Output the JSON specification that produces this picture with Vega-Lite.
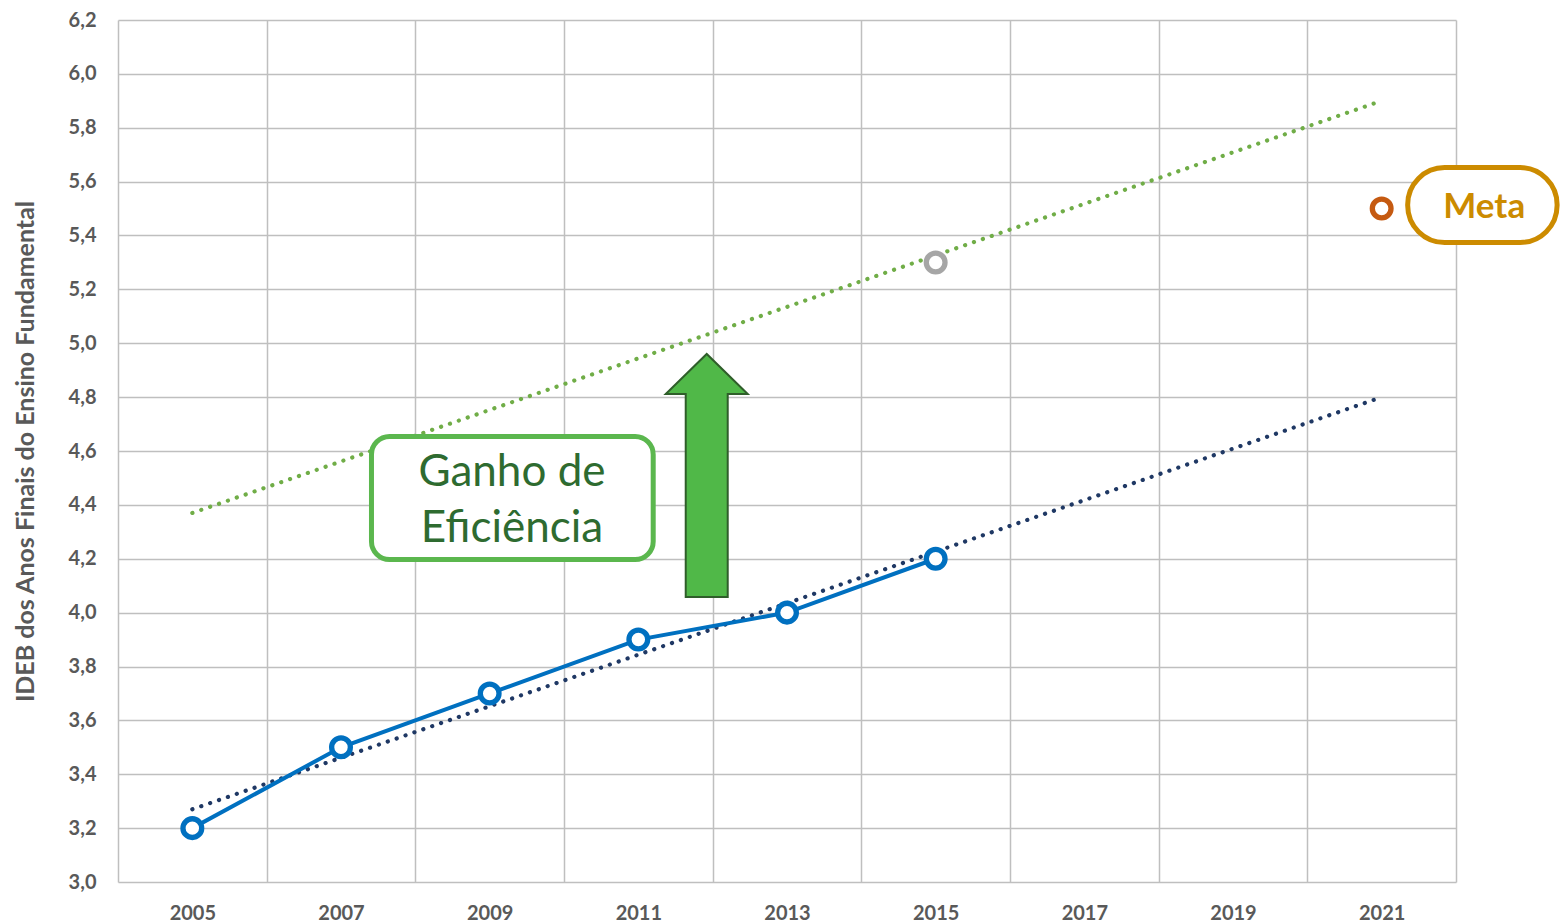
{
  "$schema": "https://vega.github.io/schema/vega-lite/v6.json",
  "width": 1338,
  "height": 862,
  "autosize": {"type": "none"},
  "padding": {"left": 118, "top": 20, "right": 104, "bottom": 41},
  "background": "white",
  "config": {"view": {"stroke": null}, "font": "Lato"},
  "datasets": {
    "ideb": [
      {"series": "IDEB observado", "year": 2005, "value": 3.2},
      {"series": "IDEB observado", "year": 2007, "value": 3.5},
      {"series": "IDEB observado", "year": 2009, "value": 3.7},
      {"series": "IDEB observado", "year": 2011, "value": 3.9},
      {"series": "IDEB observado", "year": 2013, "value": 4.0},
      {"series": "IDEB observado", "year": 2015, "value": 4.2},
      {"series": "Projeção com ganho de eficiência", "year": 2015, "value": 5.3},
      {"series": "Meta", "year": 2021, "value": 5.5}
    ],
    "trend": [
      {"series": "Tendência", "year": 2005, "value": 3.27},
      {"series": "Tendência", "year": 2021, "value": 4.8},
      {"series": "Tendência com ganho de eficiência", "year": 2005, "value": 4.37},
      {"series": "Tendência com ganho de eficiência", "year": 2021, "value": 5.9}
    ],
    "boxes": [
      {"label": "Ganho de\nEficiência", "year": 2007.41, "year2": 2011.2, "value": 4.197, "value2": 4.654, "textYear": 2009.3, "textValue": 4.47},
      {"label": "Meta", "year": 2021.35, "year2": 2023.36, "value": 5.374, "value2": 5.652, "textYear": 2022.38, "textValue": 5.464}
    ],
    "arrow": [
      {"label": "Ganho", "year": 2011.92, "value": 4.509}
    ]
  },
  "layer": [
    {
      "data": {"name": "trend"},
      "mark": {"type": "line", "strokeDash": [0.1, 9.3], "strokeCap": "round", "strokeWidth": 4.2},
      "encoding": {
        "x": {
          "field": "year", "type": "quantitative",
          "scale": {"domain": [2004, 2022], "nice": false, "zero": false},
          "axis": {
            "title": null,
            "values": [2004, 2005, 2006, 2007, 2008, 2009, 2010, 2011, 2012, 2013, 2014, 2015, 2016, 2017, 2018, 2019, 2020, 2021, 2022],
            "format": "d",
            "labelExpr": "datum.value % 2 == 1 ? datum.label : ''",
            "grid": true,
            "gridColor": "#bfbfbf",
            "gridWidth": 1.5,
            "gridOpacity": {"condition": {"test": "datum.value % 2 == 0", "value": 1}, "value": 0},
            "ticks": false,
            "domain": false,
            "labelFont": "Lato",
            "labelFontWeight": "bold",
            "labelFontSize": 20,
            "labelColor": "#595959",
            "labelPadding": 21,
            "labelFlush": false,
            "labelOverlap": false
          }
        },
        "y": {
          "field": "value", "type": "quantitative",
          "scale": {"domain": [3, 6.2], "nice": false, "zero": false},
          "axis": {
            "title": "IDEB dos Anos Finais do Ensino Fundamental",
            "values": [3.0, 3.2, 3.4, 3.6, 3.8, 4.0, 4.2, 4.4, 4.6, 4.8, 5.0, 5.2, 5.4, 5.6, 5.8, 6.0, 6.2],
            "format": ".1f",
            "labelExpr": "replace(datum.label, '.', ',')",
            "grid": true,
            "gridColor": "#bfbfbf",
            "gridWidth": 1.5,
            "ticks": false,
            "domain": false,
            "labelFont": "Lato",
            "labelFontWeight": "bold",
            "labelFontSize": 20,
            "labelColor": "#595959",
            "labelPadding": 22,
            "titleFont": "Lato",
            "titleFontWeight": "bold",
            "titleFontSize": 25,
            "titleColor": "#595959",
            "titlePadding": 30
          }
        },
        "color": {
          "field": "series", "type": "nominal",
          "scale": {"domain": ["Tendência", "Tendência com ganho de eficiência"], "range": ["#1f3864", "#70ad47"]},
          "legend": null
        }
      }
    },
    {
      "data": {"name": "ideb"},
      "transform": [{"filter": "datum.series == 'IDEB observado'"}],
      "mark": {"type": "line", "color": "#0070c0", "strokeWidth": 4},
      "encoding": {
        "x": {"field": "year", "type": "quantitative"},
        "y": {"field": "value", "type": "quantitative"}
      }
    },
    {
      "data": {"name": "ideb"},
      "mark": {"type": "point", "shape": "circle", "size": 350, "filled": true, "fill": "white", "strokeWidth": 5.3, "opacity": 1},
      "encoding": {
        "x": {"field": "year", "type": "quantitative"},
        "y": {"field": "value", "type": "quantitative"},
        "stroke": {
          "field": "series", "type": "nominal",
          "scale": {"domain": ["IDEB observado", "Projeção com ganho de eficiência", "Meta"], "range": ["#0070c0", "#a6a6a6", "#c55a11"]},
          "legend": null
        }
      }
    },
    {
      "data": {"name": "boxes"},
      "transform": [{"filter": "datum.label != 'Meta'"}],
      "mark": {"type": "rect", "fill": "white", "stroke": "#5bb74e", "strokeWidth": 5, "cornerRadius": 18},
      "encoding": {
        "x": {"field": "year", "type": "quantitative"},
        "x2": {"field": "year2"},
        "y": {"field": "value", "type": "quantitative"},
        "y2": {"field": "value2"}
      }
    },
    {
      "data": {"name": "boxes"},
      "transform": [{"filter": "datum.label != 'Meta'"}],
      "mark": {"type": "text", "font": "Lato", "fontSize": 44, "color": "#2e6b30", "align": "center", "baseline": "alphabetic", "lineBreak": "\n", "lineHeight": 56},
      "encoding": {
        "x": {"field": "textYear", "type": "quantitative"},
        "y": {"field": "textValue", "type": "quantitative"},
        "text": {"field": "label"}
      }
    },
    {
      "data": {"name": "arrow"},
      "mark": {
        "type": "point",
        "shape": "M-0.1728,1 L0.1728,1 L0.1728,-0.6708 L0.3374,-0.6708 L0,-1 L-0.3374,-0.6708 L-0.1728,-0.6708 Z",
        "size": 59049,
        "filled": true,
        "fill": "#50b848",
        "stroke": "#2f5e2a",
        "strokeWidth": 2,
        "opacity": 1
      },
      "encoding": {
        "x": {"field": "year", "type": "quantitative"},
        "y": {"field": "value", "type": "quantitative"}
      }
    },
    {
      "data": {"name": "boxes"},
      "transform": [{"filter": "datum.label == 'Meta'"}],
      "mark": {"type": "rect", "fill": "white", "stroke": "#cc8b00", "strokeWidth": 5, "cornerRadius": 37},
      "encoding": {
        "x": {"field": "year", "type": "quantitative"},
        "x2": {"field": "year2"},
        "y": {"field": "value", "type": "quantitative"},
        "y2": {"field": "value2"}
      }
    },
    {
      "data": {"name": "boxes"},
      "transform": [{"filter": "datum.label == 'Meta'"}],
      "mark": {"type": "text", "font": "Lato", "fontSize": 35, "fontWeight": "bold", "color": "#cc8b00", "align": "center", "baseline": "alphabetic"},
      "encoding": {
        "x": {"field": "textYear", "type": "quantitative"},
        "y": {"field": "textValue", "type": "quantitative"},
        "text": {"field": "label"}
      }
    }
  ]
}
